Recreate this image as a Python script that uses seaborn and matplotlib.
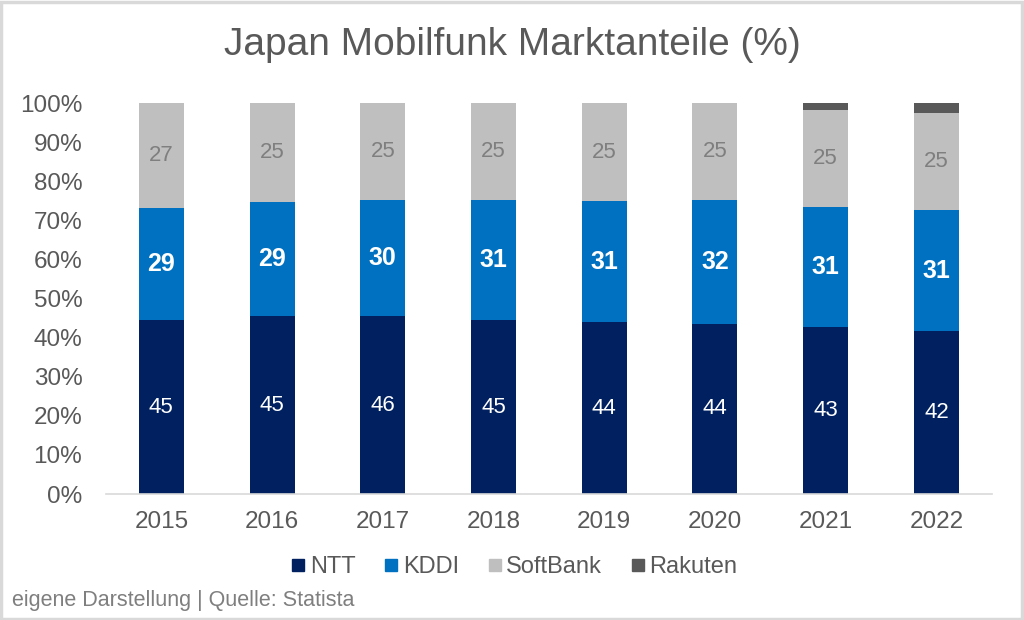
import numpy as np
import pandas as pd
import matplotlib
matplotlib.use("Agg")
import matplotlib.pyplot as plt
from matplotlib.patches import Rectangle
from matplotlib.lines import Line2D
import seaborn as sns

# Daten (Marktanteile in %)
years = ["2015", "2016", "2017", "2018", "2019", "2020", "2021", "2022"]
ntt = [45, 45, 46, 45, 44, 44, 43, 42]
kddi = [29, 29, 30, 31, 31, 32, 31, 31]
softbank = [27, 25, 25, 25, 25, 25, 25, 25]
rakuten = [0, 0, 0, 0, 0, 0, 1.6, 2.5]

names = ["NTT", "KDDI", "SoftBank", "Rakuten"]
colors = ["#002060", "#0070C0", "#BFBFBF", "#595959"]

sns.set_style("white")
plt.rcParams["font.family"] = ["Liberation Sans", "DejaVu Sans"]

raw = np.array([ntt, kddi, softbank, rakuten], dtype=float)
shares = raw / raw.sum(axis=0) * 100
cum = np.cumsum(shares, axis=0)

fig = plt.figure(figsize=(10.24, 6.2), dpi=100)
ax = fig.add_axes([0.1035, 0.2032, 0.865, 0.630])

# gestapelt: kumulierte Summen von oben nach unten überlagern
for i in range(3, -1, -1):
    df = pd.DataFrame({"Jahr": years, "Wert": cum[i]})
    sns.barplot(data=df, x="Jahr", y="Wert", color=colors[i], width=0.406,
                saturation=1, ax=ax, linewidth=0)

# Beschriftungen
for j in range(len(years)):
    ax.text(j, shares[0, j] / 2, f"{ntt[j]}", ha="center", va="center",
            color="white", fontsize=16)
    ax.text(j, cum[0, j] + shares[1, j] / 2, f"{kddi[j]}", ha="center", va="center",
            color="white", fontsize=18, fontweight="bold")
    ax.text(j, cum[1, j] + shares[2, j] / 2, f"{softbank[j]}", ha="center", va="center",
            color="#7F7F7F", fontsize=16)

ax.set_ylim(0, 100)
ax.set_xlim(-0.5, len(years) - 0.5)
ax.set_yticks(np.arange(0, 101, 10))
ax.set_yticklabels([f"{v}%" for v in range(0, 101, 10)])
ax.tick_params(axis="both", length=0, labelsize=17.5, labelcolor="#595959")
ax.tick_params(axis="x", pad=12)
ax.tick_params(axis="y", pad=17)
ax.set_xlabel("")
ax.set_ylabel("")
for s in ["top", "right", "left"]:
    ax.spines[s].set_visible(False)
ax.spines["bottom"].set_color("#D9D9D9")
ax.spines["bottom"].set_linewidth(1.2)

fig.text(0.5, 0.927, "Japan Mobilfunk Marktanteile (%)", ha="center", va="center",
         fontsize=28, color="#595959")

handles = [Line2D([0], [0], marker="s", linestyle="", markersize=9,
                  markerfacecolor=c, markeredgecolor=c) for c in colors]
fig.legend(handles, names, loc="center", bbox_to_anchor=(0.5, 0.085), ncol=4,
           frameon=False, fontsize=17, handletextpad=0.0, columnspacing=1.0,
           handlelength=1.0, labelcolor="#595959")

fig.text(0.012, 0.032, "eigene Darstellung | Quelle: Statista", ha="left", va="center",
         fontsize=15.5, color="#7F7F7F")

fig.patches.append(Rectangle((0.001, 0.002), 0.997, 0.995, transform=fig.transFigure,
                             fill=False, edgecolor="#D9D9D9", linewidth=2.5))

fig.savefig("out.png", dpi=100)
